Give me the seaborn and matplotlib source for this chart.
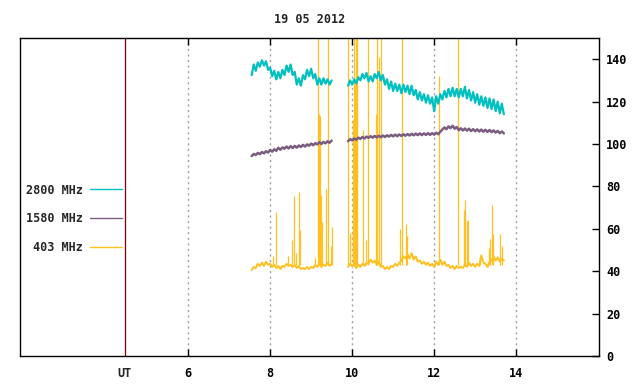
import matplotlib
matplotlib.use("Agg")
import matplotlib.pyplot as plt
import matplotlib.transforms as mtransforms
from matplotlib.lines import Line2D
import seaborn as sns
import numpy as np
import pandas as pd

# sampling: first segment starts 7.55 UT, second 9.90 UT, one value every 0.05 h
seg_start = [7.55, 9.90]
step = 0.05

mhz2800_a = [132.5, 137.5, 134.5, 138.5, 136.5, 139.5, 137, 139, 135, 136,
             132, 134.5, 130.5, 134, 131, 135, 132.5, 137, 134, 137.5,
             132.5, 134, 128, 131, 127.5, 132.5, 130.5, 135, 132, 135.5,
             131, 133, 128, 131, 128, 131, 128.5, 130.5, 128, 130]
mhz2800_b = [127.5, 130, 128, 130.5, 128.5, 131.5, 130, 133, 131, 133.5,
             129.5, 132, 129.5, 133, 131, 134, 130, 132.5, 128, 130.5,
             126, 129.5, 125, 128.5, 125, 128, 124, 128, 124.5, 127.5,
             123.5, 127.5, 123, 125.5, 121, 124.5, 120.5, 123.5, 119.5, 123,
             119, 122, 115.5, 122.5, 119, 123.5, 121, 125, 122, 126,
             122.5, 126.5, 122.5, 126, 122, 126, 122.5, 127, 121.5, 125.5,
             120.5, 124.5, 119.5, 123.5, 118.5, 122.5, 118, 122, 117, 121.5,
             116.5, 121, 115.5, 120, 114.5, 119, 114]

mhz1580_a = [94.3, 95.3, 94.8, 95.8, 95.2, 96.2, 95.6, 96.6, 96.0, 97.2,
             96.4, 97.5, 96.8, 98.2, 97.3, 98.4, 97.8, 98.8, 97.9, 99.0,
             98.1, 99.1, 98.3, 99.3, 98.6, 99.6, 98.8, 99.8, 99.2, 100.2,
             99.4, 100.4, 99.8, 100.9, 100.0, 101.0, 100.3, 101.3, 100.6, 101.6]
mhz1580_b = [101.3, 102.3, 101.7, 102.6, 102.0, 103.0, 102.4, 103.3, 102.6, 103.5,
             102.9, 103.7, 103.0, 103.8, 103.1, 103.9, 103.2, 104.0, 103.3, 104.1,
             103.5, 104.3, 103.6, 104.4, 103.7, 104.5, 103.8, 104.6, 103.9, 104.7,
             104.0, 104.8, 104.1, 104.9, 104.2, 105.0, 104.2, 105.0, 104.3, 105.1,
             104.3, 105.1, 104.4, 105.3, 104.6, 105.8, 106.8, 107.8, 107.0, 108.3,
             107.5, 108.6, 107.2, 108.0, 106.5, 107.4, 106.4, 107.3, 106.3, 107.2,
             106.1, 107.0, 106.0, 106.9, 105.9, 106.8, 105.8, 106.7, 105.7, 106.6,
             105.6, 106.4, 105.4, 106.2, 105.1, 105.9, 105.0]

mhz403_a = [40.5, 42.0, 41.5, 43.5, 42.5, 44.0, 42.5, 44.5, 43.0, 43.5,
            42.0, 43.0, 41.5, 42.5, 41.0, 42.5, 42.0, 43.5, 42.5, 43.0,
            42.0, 43.0, 41.5, 42.5, 41.0, 41.5, 41.0, 42.0, 41.0, 42.0,
            41.5, 43.0, 42.0, 43.5, 42.0, 43.0, 42.5, 44.0, 42.5, 43.5]
mhz403_b = [42.0, 43.5, 42.5, 43.0, 41.5, 43.0, 42.0, 43.5, 42.5, 44.0,
            43.5, 45.5, 44.0, 45.0, 43.0, 44.5, 42.0, 42.5, 41.0, 42.0,
            41.0, 42.5, 42.0, 43.5, 42.5, 44.0, 45.0, 47.0, 46.0, 48.0,
            46.0, 48.5, 45.5, 47.0, 44.5, 45.0, 43.5, 44.5, 43.0, 44.0,
            42.5, 43.5, 42.0, 44.5, 43.0, 45.5, 43.0, 44.5, 42.5, 43.0,
            41.5, 42.5, 41.0, 42.5, 41.5, 42.0, 41.5, 43.0, 42.0, 44.0,
            42.5, 43.5, 42.0, 43.5, 42.5, 47.5, 44.0, 43.5, 42.0, 44.5,
            45.0, 47.0, 45.0, 46.5, 44.5, 46.0, 45.0]

# 403 MHz bursts: time (UT hours) and peak value
burst_t = [8.07, 8.154, 8.44, 8.544, 8.593, 8.641, 8.715, 8.739, 9.10, 9.178,
           9.202, 9.227, 9.244, 9.276, 9.366, 9.402, 9.488, 9.50, 9.910, 9.959,
           10.012, 10.032, 10.056, 10.073, 10.090, 10.110, 10.129, 10.276, 10.349, 10.398,
           10.593, 10.617, 10.666, 10.715, 11.178, 11.227, 11.324, 11.349, 12.129, 12.593,
           12.739, 12.763, 12.812, 12.837, 13.13, 13.349, 13.373, 13.422, 13.446, 13.617,
           13.666]
burst_v = [47, 68, 47, 54.6, 75.6, 48.4, 77.5, 59.3, 46, 160,
           114, 113, 76, 63, 79, 160, 52, 60.7, 160, 58,
           60, 112, 160, 128, 160, 128, 160, 106.8, 54.6, 160,
           114, 160, 141, 160, 59.8, 160, 62.2, 56.5, 132, 160,
           68.8, 73.6, 63.7, 64, 47, 51, 55, 71.2, 57.4, 57.4,
           52]

legend_labels = ["2800 MHz", "1580 MHz", "403 MHz"]
colors = ["#00c0c0", "#7a5c7e", "#ffc020"]
x_ticks = [6, 8, 10, 12, 14]
y_ticks = [0, 20, 40, 60, 80, 100, 120, 140]
title = "19 05 2012"
ut_pos = 4.46


def series_frame(parts):
    rows = []
    for k, (t0, vals) in enumerate(zip(seg_start, parts)):
        t = t0 + step * np.arange(len(vals))
        rows.append(pd.DataFrame({"t": t, "v": vals, "seg": k}))
    return pd.concat(rows, ignore_index=True)


sns.set_style("white")
plt.rcParams["font.family"] = ["DejaVu Sans Mono"]
plt.rcParams["font.weight"] = "bold"
plt.rcParams["font.size"] = 8.5

fig = plt.figure(figsize=(6.4, 3.84), dpi=100)
ax = fig.add_axes([20 / 640, 28 / 384, 579 / 640, 318 / 384])

for x in x_ticks:
    ax.axvline(x, color="#a0a0a0", lw=1, ls=(0, (1.5, 2.5)), zorder=0)
ax.axvline(ut_pos, color="#800000", lw=0.9, zorder=1)

ax.vlines(burst_t, 43, burst_v, color=colors[2], lw=0.9, zorder=2)
sns.lineplot(data=series_frame([mhz403_a, mhz403_b]), x="t", y="v", units="seg",
             estimator=None, color=colors[2], lw=1.4, ax=ax, zorder=2)
sns.lineplot(data=series_frame([mhz1580_a, mhz1580_b]), x="t", y="v", units="seg",
             estimator=None, color=colors[1], lw=1.8, ax=ax, zorder=3)
sns.lineplot(data=series_frame([mhz2800_a, mhz2800_b]), x="t", y="v", units="seg",
             estimator=None, color=colors[0], lw=1.6, ax=ax, zorder=3)

ax.set_xlim(1.9, 16.02)
ax.set_ylim(0, 150)
ax.set_xlabel("")
ax.set_ylabel("")
ax.set_xticks(x_ticks)
ax.set_xticklabels([str(v) for v in x_ticks])
ax.set_yticks(y_ticks)
ax.yaxis.tick_right()
ax.tick_params(axis="x", direction="in", length=5, width=1, top=True, bottom=True, pad=8, colors="black")
ax.tick_params(axis="y", direction="in", length=5, width=1, left=False, right=True, pad=5, colors="black")
for s in ax.spines.values():
    s.set_color("black")
    s.set_linewidth(1)
    s.set_visible(True)

trans = mtransforms.blended_transform_factory(ax.transData, ax.transAxes)
ax.text(ut_pos, -0.035, "UT", transform=trans, ha="center", va="top")
ax.set_title(title, fontsize=8.5, fontweight="bold", pad=11)

handles = [Line2D([], [], color=c, lw=1.0) for c in colors]
ax.legend(handles, legend_labels, loc="center right", bbox_to_anchor=(0.176, 0.431),
          frameon=False, markerfirst=False, handlelength=2.7, handletextpad=0.6,
          labelspacing=1.35, borderpad=0, borderaxespad=0)

fig.savefig("out.png", dpi=100)
